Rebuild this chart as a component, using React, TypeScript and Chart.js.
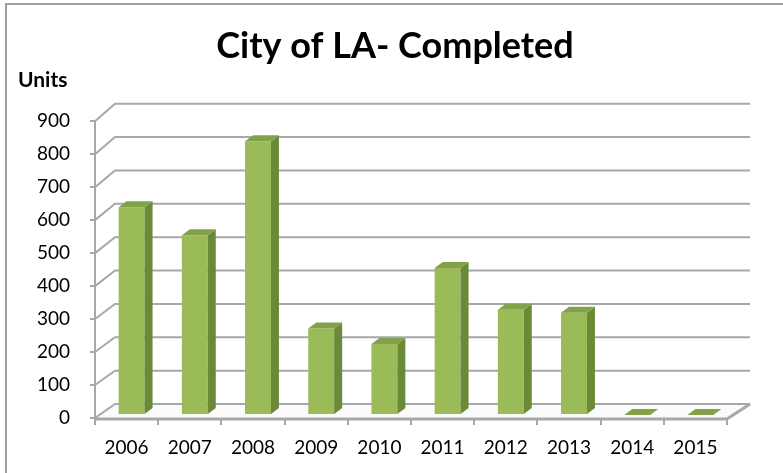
import React, { useEffect, useRef } from "react";
import { Chart, registerables } from "chart.js";

Chart.register(...registerables);

const categories = ["2006", "2007", "2008", "2009", "2010", "2011", "2012", "2013", "2014", "2015"];
const unitsCompleted = [630, 545, 830, 262, 215, 446, 319, 310, 0, 0];
const yMin = 0;
const yMax = 900;
const yStep = 100;

const FONT = "Lato, 'Open Sans', sans-serif";
const GRID = "#a8a8a8";

const WALL_DX = 20;
const WALL_DY_BOTTOM = -14;
const WALL_DY_TOP = -17.5;
const BAR_SHIFT_X = 5;
const BAR_SHIFT_Y = -3;
const BAR_DX = 8;
const BAR_DY = -6;

const threeD = {
  id: "threeD",
  beforeDraw(chart: any) {
    const ctx = chart.ctx;
    ctx.save();
    ctx.strokeStyle = "#a0a0a0";
    ctx.lineWidth = 2;
    ctx.beginPath();
    ctx.moveTo(6, chart.height);
    ctx.lineTo(6, 4);
    ctx.lineTo(chart.width, 4);
    ctx.stroke();
    ctx.restore();
  },
  beforeDatasetsDraw(chart: any) {
    const ctx = chart.ctx;
    const a = chart.chartArea;
    const y = chart.scales.y;
    const bx = (x: number) => x + WALL_DX + ((x - a.left) * 3) / (a.right - a.left);
    const by = (v: number) =>
      y.getPixelForValue(v) + WALL_DY_BOTTOM + ((WALL_DY_TOP - WALL_DY_BOTTOM) * (v - yMin)) / (yMax - yMin);
    ctx.save();
    // floor
    ctx.fillStyle = "#fbfbfb";
    ctx.beginPath();
    ctx.moveTo(a.left, a.bottom);
    ctx.lineTo(a.right, a.bottom);
    ctx.lineTo(bx(a.right), by(0));
    ctx.lineTo(bx(a.left), by(0));
    ctx.closePath();
    ctx.fill();
    // wall gridlines
    ctx.strokeStyle = GRID;
    ctx.lineWidth = 2;
    for (let v = yMin; v <= yMax; v += yStep) {
      ctx.beginPath();
      ctx.moveTo(a.left, y.getPixelForValue(v));
      ctx.lineTo(bx(a.left), by(v));
      ctx.lineTo(bx(a.right), by(v));
      ctx.stroke();
    }
    // floor front and right edges
    ctx.lineWidth = 3;
    ctx.beginPath();
    ctx.moveTo(a.left, a.bottom + 1);
    ctx.lineTo(a.right, a.bottom + 1);
    ctx.lineTo(bx(a.right), by(0));
    ctx.stroke();
    ctx.restore();
    ctx.save();
    ctx.translate(BAR_SHIFT_X, BAR_SHIFT_Y);
  },
  afterDatasetsDraw(chart: any) {
    const ctx = chart.ctx;
    ctx.restore();
    const meta = chart.getDatasetMeta(0);
    ctx.save();
    meta.data.forEach((bar: any) => {
      const p = bar.getProps(["x", "y", "base", "width"], true);
      const l = p.x - p.width / 2 + BAR_SHIFT_X;
      const r = p.x + p.width / 2 + BAR_SHIFT_X;
      const t = p.y + BAR_SHIFT_Y;
      const b = p.base + BAR_SHIFT_Y;
      if (b - t > 0.5) {
        ctx.fillStyle = "#6a8a38";
        ctx.beginPath();
        ctx.moveTo(r, t);
        ctx.lineTo(r + BAR_DX, t + BAR_DY);
        ctx.lineTo(r + BAR_DX, b + BAR_DY);
        ctx.lineTo(r, b);
        ctx.closePath();
        ctx.fill();
      }
      ctx.fillStyle = "#82a24a";
      ctx.beginPath();
      ctx.moveTo(l, t);
      ctx.lineTo(l + BAR_DX, t + BAR_DY);
      ctx.lineTo(r + BAR_DX, t + BAR_DY);
      ctx.lineTo(r, t);
      ctx.closePath();
      ctx.fill();
    });
    ctx.restore();
  },
  afterDraw(chart: any) {
    const ctx = chart.ctx;
    ctx.save();
    ctx.fillStyle = "#000";
    ctx.font = `bold 21px ${FONT}`;
    ctx.textBaseline = "middle";
    ctx.textAlign = "left";
    ctx.fillText("Units", 18, 80);
    ctx.restore();
  },
};

export default function App() {
  const ref = useRef<HTMLCanvasElement | null>(null);
  useEffect(() => {
    if (!ref.current) return;
    const chart = new Chart(ref.current, {
      type: "bar",
      data: {
        labels: categories,
        datasets: [
          {
            label: "Units",
            data: unitsCompleted,
            backgroundColor: "#9bbb59",
            borderWidth: 0,
            barPercentage: 0.41,
            categoryPercentage: 1,
            clip: false as any,
          },
        ],
      },
      options: {
        responsive: false,
        animation: false,
        devicePixelRatio: 1,
        layout: { padding: { left: 7, right: 0, top: 0, bottom: 0 } },
        plugins: {
          legend: { display: false },
          tooltip: { enabled: false },
          title: {
            display: true,
            text: "City of LA- Completed",
            color: "#000",
            font: { family: FONT, size: 36, weight: "bold" },
            padding: { top: 25, bottom: 53 },
          },
        },
        scales: {
          x: {
            type: "category",
            grid: { display: true, offset: true, drawOnChartArea: false, drawTicks: true, tickLength: 7, color: GRID, lineWidth: 2 },
            border: { display: false },
            ticks: { color: "#000", font: { family: FONT, size: 19 }, padding: 11, maxRotation: 0, autoSkip: false },
            afterFit: (s: any) => {
              s.height = 55;
            },
          },
          y: {
            type: "linear",
            min: yMin,
            max: yMax,
            grid: { display: true, drawOnChartArea: false, drawTicks: true, tickLength: 5, color: GRID, lineWidth: 2 },
            border: { display: true, color: GRID, width: 2 },
            ticks: { stepSize: yStep, color: "#000", font: { family: FONT, size: 19 }, padding: 20 },
            afterFit: (s: any) => {
              s.width = 88;
            },
          },
          yRight: {
            type: "linear",
            position: "right",
            display: true,
            grid: { display: false },
            border: { display: false },
            ticks: { display: false },
            afterFit: (s: any) => {
              s.width = 56;
            },
          },
        },
      },
      plugins: [threeD],
    });
    return () => chart.destroy();
  }, []);
  return (
    <div style={{ position: "absolute", left: 0, top: 0, width: 783, height: 473, background: "#fff" }}>
      <canvas ref={ref} width={783} height={473} />
    </div>
  );
}
